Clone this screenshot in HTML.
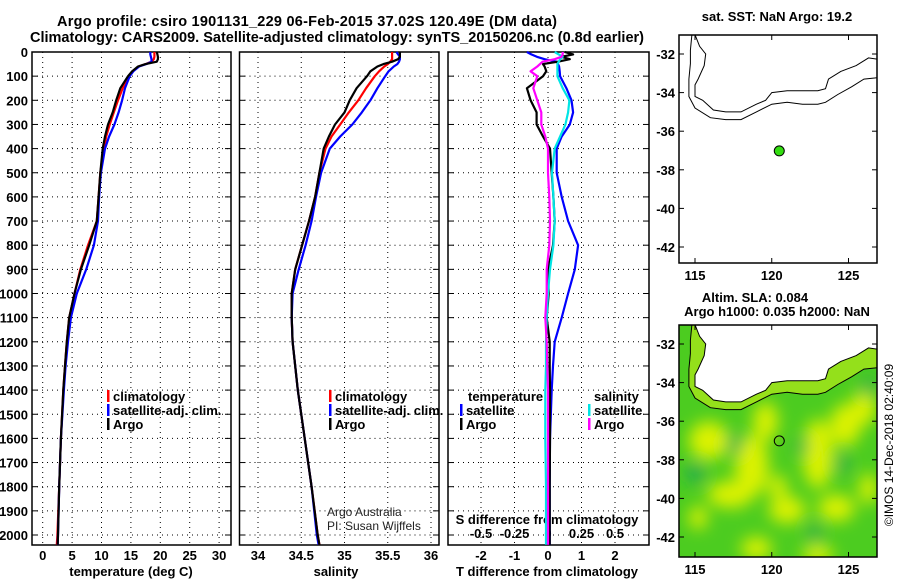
<!DOCTYPE html>
<html><head><meta charset="utf-8">
<style>
html,body{margin:0;padding:0;background:#fff;}
svg{display:block;font-family:"Liberation Sans",Arial,sans-serif;}
.b{font-weight:bold;font-size:13px;fill:#000;}
.t{font-weight:bold;font-size:14.5px;fill:#000;}
</style></head>
<body>
<svg id="chart" width="900" height="580" viewBox="0 0 900 580" xmlns="http://www.w3.org/2000/svg">
<defs>
<filter id="blur" x="-30%" y="-30%" width="160%" height="160%"><feGaussianBlur stdDeviation="8"/></filter>
<clipPath id="clipMap2"><rect x="679" y="325" width="198" height="232"/></clipPath>
<clipPath id="clipMap1"><rect x="679" y="35" width="198" height="228"/></clipPath>
</defs>
<text class="t" x="57" y="26" textLength="500">Argo profile: csiro 1901131_229 06-Feb-2015 37.02S 120.49E (DM data)</text>
<text class="t" x="30" y="42" textLength="614">Climatology: CARS2009. Satellite-adjusted climatology: synTS_20150206.nc (0.8d earlier)</text>
<g id="g"></g>
</svg>
<script>
const depths = [0,10,20,30,40,50,60,80,100,150,200,250,300,350,400,500,600,700,800,900,1000,1100,1200,1300,1400,1600,1800,2000,2040];
const tempArgo = [19.4,19.5,19.6,19.6,19.4,17.5,16.2,15.2,14.5,13.2,12.5,11.9,11.1,10.6,10.2,9.8,9.5,9.2,7.9,6.5,5.4,4.5,4.1,3.8,3.5,3.1,2.8,2.6,2.55];
const tempClim = [19.0,19.0,19.0,18.9,18.5,17.5,16.3,15.3,14.6,13.6,12.8,12.1,11.4,10.8,10.4,9.8,9.5,9.2,7.7,6.4,5.4,4.5,4.1,3.8,3.5,3.1,2.8,2.5,2.4];
const tempSat = [18.3,18.3,18.4,18.5,18.5,17.6,16.4,15.4,14.8,14.0,13.5,12.9,12.2,11.3,10.6,9.9,9.6,9.4,8.7,7.4,5.8,4.8,4.3,3.9,3.6,3.1,2.8,2.6,2.55];
const salArgo = [35.64,35.64,35.64,35.62,35.55,35.45,35.38,35.30,35.26,35.14,35.06,35.00,34.89,34.82,34.76,34.71,34.66,34.59,34.51,34.43,34.39,34.39,34.40,34.43,34.46,34.54,34.62,34.69,34.71];
const salClim = [35.55,35.55,35.55,35.55,35.53,35.50,35.46,35.40,35.35,35.25,35.16,35.05,34.95,34.85,34.78,34.71,34.66,34.59,34.51,34.43,34.39,34.39,34.40,34.43,34.46,34.54,34.62,34.69,34.71];
const salSat = [35.60,35.62,35.64,35.64,35.63,35.61,35.57,35.51,35.47,35.38,35.30,35.20,35.09,34.95,34.83,34.73,34.67,34.62,34.55,34.47,34.40,34.39,34.40,34.43,34.46,34.54,34.62,34.68,34.70];
const dTsat = [-0.63,-0.5,-0.33,-0.1,0.26,0.3,0.33,0.35,0.36,0.55,0.7,0.75,0.65,0.41,0.26,0.26,0.41,0.6,0.9,0.8,0.6,0.41,0.2,0.15,0.11,0.06,0.05,0.05,0.05];
const dTargo = [0.5,0.75,0.4,0.65,0.3,-0.15,-0.1,-0.05,-0.15,-0.63,-0.52,-0.34,-0.34,-0.15,0.06,0.11,0.16,0.2,0.15,0,0.02,-0.04,0.05,0.05,0.06,0.06,0.05,0.05,0.05];
const dSsat = [0.05,0.08,0.11,0.09,0.08,0.07,0.07,0.07,0.07,0.11,0.16,0.15,0.13,0.09,0.05,0.03,0.04,0.05,0.04,0.015,0,-0.01,-0.015,-0.015,-0.02,-0.02,-0.015,-0.015,-0.015];
const dSargo = [0.11,0.11,0.1,0.05,-0.04,-0.06,-0.08,-0.13,-0.08,-0.11,-0.08,-0.05,-0.05,-0.02,0,0,0.01,0.015,0.01,-0.01,-0.01,-0.02,-0.01,-0.005,0,0,0,0,0];
const depthTicks = [0,100,200,300,400,500,600,700,800,900,1000,1100,1200,1300,1400,1500,1600,1700,1800,1900,2000];
const tempTicks = [0,5,10,15,20,25,30];
const salTicks = [34,34.5,35,35.5,36];
const tdTicks = [-2,-1,0,1,2];
const sdTicks = [-0.5,-0.25,0,0.25,0.5];
const sdTickLabels = ["-0.5","-0.25","0","0.25","0.5"];
const latTicks = [-32,-34,-36,-38,-40,-42];
const lonTicks = [115,120,125];
const argoLon = 120.49, argoLat = -37.02;

const NS = "http://www.w3.org/2000/svg";
const G = document.getElementById('g');
function mk(tag, attrs, parent, txt){const e=document.createElementNS(NS,tag);for(const k in attrs)e.setAttribute(k,attrs[k]);if(txt!==undefined)e.textContent=txt;(parent||G).appendChild(e);return e;}

const yD = d => 52 + d*0.2415;
const xT = t => 42.7 + t*5.88;
const xS = s => 258 + (s-34)*86.5;
const xTD = t => 548 + 33.5*t;
const xSD = s => 548 + 134*s;
const TOP=52, BOT=545;

function panel(x0,x1,xs,ticks,name){
  const f=mk('rect',{x:x0,y:TOP,width:x1-x0,height:BOT-TOP,fill:'none',stroke:'#000','stroke-width':1.5});
  
  
  depthTicks.forEach(d=>{const l=mk('line',{x1:x0,x2:x1,y1:yD(d),y2:yD(d),stroke:'#000','stroke-dasharray':'1,4'});
    
    
    mk('line',{x1:x0,x2:x0+6,y1:yD(d),y2:yD(d),stroke:'#000'});mk('line',{x1:x1-6,x2:x1,y1:yD(d),y2:yD(d),stroke:'#000'});});
  ticks.forEach(v=>{const l=mk('line',{x1:xs(v),x2:xs(v),y1:TOP,y2:BOT,stroke:'#000','stroke-dasharray':'1,4'});
    
    });
}
panel(32,231,xT,tempTicks,'temperature-panel');
panel(239.5,439,xS,salTicks,'salinity-panel');
panel(448,649,xTD,tdTicks,'difference-panel');

depthTicks.forEach(d=>{const t=mk('text',{x:28,y:yD(d)+5,'text-anchor':'end',class:'b'},G,String(d));
  
  });
tempTicks.forEach(v=>{const t=mk('text',{x:xT(v),y:560,'text-anchor':'middle',class:'b'},G,String(v));
  
  });
salTicks.forEach(v=>{const t=mk('text',{x:xS(v),y:560,'text-anchor':'middle',class:'b'},G,String(v));
  
  });
tdTicks.forEach(v=>{const t=mk('text',{x:xTD(v),y:560,'text-anchor':'middle',class:'b'},G,String(v));
  
  });
sdTicks.forEach((v,i)=>{const t=mk('text',{x:xSD(v),y:538,'text-anchor':'middle',class:'b'},G,sdTickLabels[i]);
  
  });
let at=mk('text',{x:131,y:576,'text-anchor':'middle',class:'b'},G,'temperature (deg C)');


at=mk('text',{x:336,y:576,'text-anchor':'middle',class:'b'},G,'salinity');


at=mk('text',{x:547,y:576,'text-anchor':'middle',class:'b'},G,'T difference from climatology');


at=mk('text',{x:547,y:524,'text-anchor':'middle',class:'b'},G,'S difference from climatology');



function line(vals,xs,color,name){
  const pts=vals.map((v,i)=>xs(v).toFixed(1)+','+yD(depths[i]).toFixed(1)).join(' ');
  const p=mk('polyline',{points:pts,fill:'none',stroke:color,'stroke-width':2.2,'stroke-linejoin':'round'});
  
  
}
line(tempClim,xT,'#ff0000','temp-climatology-line');
line(tempSat,xT,'#0000ff','temp-satellite-line');
line(tempArgo,xT,'#000000','temp-argo-line');
line(salClim,xS,'#ff0000','sal-climatology-line');
line(salSat,xS,'#0000ff','sal-satellite-line');
line(salArgo,xS,'#000000','sal-argo-line');
line(dTsat,xTD,'#0000ff','tdiff-satellite-line');
line(dTargo,xTD,'#000000','tdiff-argo-line');
line(dSsat,xSD,'#00e5e5','sdiff-satellite-line');
line(dSargo,xSD,'#ff00ff','sdiff-argo-line');

function legend(x,y,color,label,name){
  const r=mk('rect',{x:x,y:y-11,width:2.5,height:12,fill:color});
  
  
  const t=mk('text',{x:x+6,y:y,class:'b'},G,label);
  
  
}
legend(107,401,'#ff0000','climatology','legend-climatology');
legend(107,415,'#0000ff','satellite-adj. clim.','legend-satellite-adj');
legend(107,429,'#000000','Argo','legend-argo');
legend(329,401,'#ff0000','climatology','legend2-climatology');
legend(329,415,'#0000ff','satellite-adj. clim.','legend2-satellite-adj');
legend(329,429,'#000000','Argo','legend2-argo');
let lt=mk('text',{x:468,y:401,class:'b'},G,'temperature');


legend(460,415,'#0000ff','satellite','legend-tdiff-satellite');
legend(460,429,'#000000','Argo','legend-tdiff-argo');
lt=mk('text',{x:594,y:401,class:'b'},G,'salinity');


legend(588,415,'#00e5e5','satellite','legend-sdiff-satellite');
legend(588,429,'#ff00ff','Argo','legend-sdiff-argo');
lt=mk('text',{x:327,y:516,'font-size':'12',fill:'#222'},G,'Argo Australia');


lt=mk('text',{x:327,y:530,'font-size':'12',fill:'#222'},G,'PI: Susan Wijffels');



// maps
const coast=[[115.0,-31.0],[115.3,-31.6],[115.7,-32.0],[115.6,-32.6],[115.2,-33.3],[115.0,-33.6],[115.0,-34.2],[115.5,-34.4],[116.2,-34.9],[117.0,-35.0],[118.0,-35.0],[119.0,-34.6],[119.6,-34.4],[120.0,-34.0],[121.0,-33.9],[122.0,-33.9],[123.0,-33.9],[123.5,-33.8],[123.7,-33.3],[124.5,-32.9],[125.5,-32.6],[126.3,-32.2],[127.2,-32.3]];
const iso=[[114.8,-31.0],[114.7,-31.8],[114.7,-32.5],[114.6,-33.3],[114.6,-34.2],[115.0,-34.8],[116.0,-35.3],[117.0,-35.4],[118.0,-35.4],[119.0,-35.0],[120.0,-34.6],[121.0,-34.5],[122.0,-34.6],[123.0,-34.6],[123.5,-34.5],[124.3,-34.1],[125.2,-33.7],[126.0,-33.3],[127.2,-33.2]];
const yellowBlobs=[[115.9,-37.0,1.3,1.0],[118.7,-38.3,1.1,1.6],[117.3,-39.8,1.5,0.7],[119.6,-36.0,0.8,1.0],[123.0,-37.7,1.0,1.8],[124.8,-36.2,1.0,1.1],[124.2,-40.5,1.2,0.7],[121.0,-40.6,1.2,0.7],[119.0,-42.6,1.0,0.6],[123.0,-42.9,1.0,0.5],[126.0,-35.3,0.8,0.9],[120.4,-39.4,0.6,0.6],[126.3,-39.5,0.6,0.8],[115.2,-41.0,0.6,0.6]];
const tealBlobs=[[117.6,-37.2,0.5,0.5],[115.0,-38.7,0.6,0.5],[122.0,-37.3,0.4,0.4],[124.6,-38.2,0.4,0.5],[122.8,-41.8,0.4,0.5],[126.3,-34.2,0.4,0.5]];
const lx = lon => 695 + (lon-115)*15.35;
function mapFrame(top,yOf,name,clip){
  const xl=679,xr=877, yb = name==='sst-map'?263:557;
  const r=mk('rect',{x:xl,y:top,width:xr-xl,height:yb-top,fill:'none',stroke:'#000','stroke-width':1.5});
  
  
  latTicks.forEach(v=>{mk('line',{x1:xl,x2:xl+5,y1:yOf(v),y2:yOf(v),stroke:'#000'});mk('line',{x1:xr-5,x2:xr,y1:yOf(v),y2:yOf(v),stroke:'#000'});
    const t=mk('text',{x:675,y:yOf(v)+5,'text-anchor':'end',class:'b'},G,String(v));
    
    });
  lonTicks.forEach(v=>{mk('line',{x1:lx(v),x2:lx(v),y1:top,y2:top+5,stroke:'#000'});mk('line',{x1:lx(v),x2:lx(v),y1:yb-5,y2:yb,stroke:'#000'});
    const t=mk('text',{x:lx(v),y:yb+17,'text-anchor':'middle',class:'b'},G,String(v));
    
    });
  const pts=a=>a.map(p=>lx(p[0]).toFixed(1)+','+yOf(p[1]).toFixed(1)).join(' ');
  const g=mk('g',{'clip-path':'url(#'+clip+')'});
  const c=mk('polyline',{points:pts(coast),fill:'none',stroke:'#000','stroke-width':1},g);
  
  
  const i=mk('polyline',{points:pts(iso),fill:'none',stroke:'#000','stroke-width':1},g);
  
  
  return pts;
}
const y1 = lat => 54 + (-32-lat)*19.3;
const y2 = lat => 344 + (-32-lat)*19.3;

const hg=mk('g',{'clip-path':'url(#clipMap2)'});
const bg=mk('rect',{x:679,y:325,width:198,height:232,fill:'#4ccc20'},hg);


const bl=mk('g',{filter:'url(#blur)'},hg);
yellowBlobs.forEach(b=>{const e=mk('ellipse',{cx:lx(b[0]),cy:y2(b[1]),rx:b[2]*15.35,ry:b[3]*19.3,fill:'#dcf200'},bl);
  
  });
tealBlobs.forEach(b=>{const e=mk('ellipse',{cx:lx(b[0]),cy:y2(b[1]),rx:b[2]*15.35,ry:b[3]*19.3,fill:'#1aa855'},bl);
  
  });
const shelf=coast.concat(iso.slice().reverse());
const sh=mk('polygon',{points:shelf.map(p=>lx(p[0]).toFixed(1)+','+y2(p[1]).toFixed(1)).join(' '),fill:'#b4e81a',opacity:0.7},hg);


const land=coast.concat([[127.2,-30.5],[115.0,-30.5]]);
const ld=mk('polygon',{points:land.map(p=>lx(p[0]).toFixed(1)+','+y2(p[1]).toFixed(1)).join(' '),fill:'#fff'},hg);



mapFrame(35,y1,'sst-map','clipMap1');
mapFrame(325,y2,'sla-map','clipMap2');

let dot=mk('circle',{cx:lx(argoLon),cy:y1(argoLat),r:5,fill:'#33dd11',stroke:'#000','stroke-width':1});


dot=mk('circle',{cx:lx(argoLon),cy:y2(argoLat),r:5,fill:'none',stroke:'#000','stroke-width':1});



let mt=mk('text',{x:777,y:21,'text-anchor':'middle',class:'b'},G,'sat. SST: NaN Argo: 19.2');


mt=mk('text',{x:755,y:302,'text-anchor':'middle',class:'b'},G,'Altim. SLA: 0.084');


mt=mk('text',{x:777,y:316,'text-anchor':'middle',class:'b'},G,'Argo h1000: 0.035 h2000: NaN');


mt=mk('text',{x:893,y:445,'text-anchor':'middle','font-size':'12',transform:'rotate(-90 893 445)'},G,'©IMOS 14-Dec-2018 02:40:09');


</script>
</body></html>
